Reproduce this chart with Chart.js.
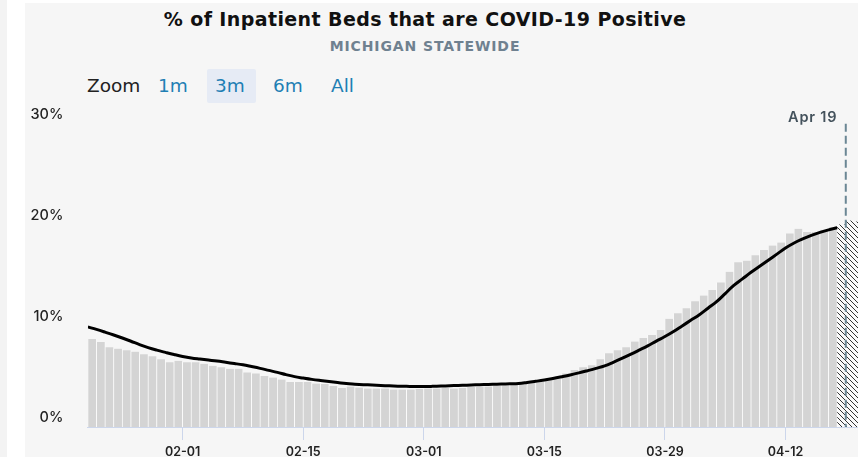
<!DOCTYPE html>
<html>
<head>
<meta charset="utf-8">
<script src="https://cdn.jsdelivr.net/npm/chart.js@4.4.1/dist/chart.umd.min.js"></script>
<style>
  html, body { margin: 0; padding: 0; }
  body { width: 858px; height: 457px; overflow: hidden; position: relative; background: #fff; font-family: Inter, sans-serif; }
  #edge { position: absolute; left: 0; top: 0; width: 7px; height: 457px; background: #f3f3f3; }
  #panel { position: absolute; left: 25px; top: 3px; width: 900px; height: 460px; background: #f6f6f6; }
  #title { position: absolute; left: 25px; width: 800px; top: 7px; line-height: 24px; text-align: center; font-family: 'DejaVu Sans', sans-serif; font-weight: 700; font-size: 19px; letter-spacing: 0.4px; color: #111; white-space: nowrap; }
  #subtitle { position: absolute; left: 25px; width: 800px; top: 38px; line-height: 16px; text-align: center; font-family: 'DejaVu Sans', sans-serif; font-weight: 700; font-size: 14px; letter-spacing: 0.9px; color: #6f8190; }
  .zt { position: absolute; top: 75px; line-height: 22px; font-family: 'DejaVu Sans', sans-serif; font-size: 18.5px; color: #1f7fb4; white-space: nowrap; }
  #zlabel { color: #222; }
  #zsel { position: absolute; left: 207px; top: 69px; width: 49px; height: 34px; background: #e6ebf5; border-radius: 2px; }
  #wrap { position: absolute; left: 25px; top: 0; width: 838px; height: 457px; }
</style>
</head>
<body>
<div id="edge"></div>
<div id="panel"></div>
<div id="title">% of Inpatient Beds that are COVID-19 Positive</div>
<div id="subtitle">MICHIGAN STATEWIDE</div>
<div id="zsel"></div>
<span class="zt" id="zlabel" style="left:87px">Zoom</span>
<span class="zt" style="left:158px">1m</span>
<span class="zt" style="left:215px">3m</span>
<span class="zt" style="left:273px">6m</span>
<span class="zt" style="left:331px">All</span>
<div id="wrap"><canvas id="chart" width="838" height="457"></canvas></div>
<script>
const startDate = '2021-01-21';
const tickLabels = ['02-01', '02-15', '03-01', '03-15', '03-29', '04-12'];
const markerDate = '2021-04-19';
const markerLabel = 'Apr 19';

// daily % of inpatient beds COVID positive, Jan 21 - Apr 17
const bedsPct = [
  8.7, 8.4, 7.9, 7.75, 7.6, 7.45, 7.2, 7.0, 6.7, 6.4,
  6.55, 6.4, 6.4, 6.25, 6.05, 5.9, 5.75, 5.75, 5.4, 5.3,
  5.05, 4.9, 4.7, 4.45, 4.45, 4.45, 4.3, 4.25, 4.05, 3.85,
  4.0, 3.9, 3.8, 3.8, 3.8, 3.7, 3.7, 3.7, 3.75, 3.8,
  3.8, 3.85, 3.8, 3.85, 3.95, 3.95, 4.0, 4.05, 4.1, 4.2,
  4.25, 4.4, 4.5, 4.7, 4.8, 5.3, 5.65, 5.9, 6.1, 6.7,
  7.3, 7.6, 7.9, 8.45, 8.8, 9.1, 9.6, 10.7, 11.25, 11.75,
  12.45, 13.0, 13.55, 14.3, 15.35, 16.3, 16.45, 17.0, 17.5, 17.95,
  18.25, 19.15, 19.6, 19.3, 19.3, 19.5, 19.75
];
// incomplete days (hatched)
const incompletePct = [20.0, 20.4, 20.3];
// 7 day average
const trendPct = [
  9.9, 9.65, 9.38, 9.1, 8.8, 8.48, 8.15, 7.85, 7.6, 7.38,
  7.17, 6.98, 6.83, 6.72, 6.62, 6.52, 6.4, 6.28, 6.15, 5.98,
  5.8, 5.6, 5.4, 5.18, 4.98, 4.84, 4.71, 4.6, 4.5, 4.4,
  4.3, 4.24, 4.19, 4.15, 4.11, 4.07, 4.04, 4.02, 4.0, 4.0,
  4.02, 4.05, 4.08, 4.11, 4.14, 4.17, 4.2, 4.23, 4.25, 4.27,
  4.3, 4.4, 4.52, 4.65, 4.8, 4.97, 5.15, 5.35, 5.57, 5.8,
  6.05, 6.4, 6.78, 7.18, 7.6, 8.03, 8.5, 8.95, 9.45, 10.0,
  10.55, 11.1, 11.75, 12.4, 13.2, 14.0, 14.65, 15.3, 15.9, 16.5,
  17.1, 17.7, 18.2, 18.6, 18.95, 19.25, 19.5, 19.7
];

const dayOf = (d) => (Date.parse(d) - Date.parse(startDate)) / 86400000;
const tickDays = tickLabels.map(l => dayOf('2021-' + l));
const markerDay = dayOf(markerDate);

function hatch() {
  const c = document.createElement('canvas');
  c.width = 5; c.height = 5;
  const g = c.getContext('2d');
  g.fillStyle = '#fafafa';
  g.fillRect(0, 0, 5, 5);
  g.strokeStyle = '#333';
  g.lineWidth = 1;
  g.beginPath();
  g.moveTo(0, 0); g.lineTo(5, 5);
  g.moveTo(4.5, -0.5); g.lineTo(5.5, 0.5);
  g.moveTo(-0.5, 4.5); g.lineTo(0.5, 5.5);
  g.stroke();
  return g.createPattern(c, 'repeat');
}

const markerLine = {
  id: 'markerLine',
  afterDatasetsDraw(chart) {
    const { ctx, scales: { x, y } } = chart;
    const px = x.getPixelForValue(markerDay);
    const top = y.getPixelForValue(30);
    ctx.save();
    ctx.strokeStyle = '#6b8794';
    ctx.lineWidth = 2;
    ctx.setLineDash([8, 4]);
    ctx.beginPath();
    ctx.moveTo(px, top);
    ctx.lineTo(px, y.getPixelForValue(0));
    ctx.stroke();
    ctx.setLineDash([]);
    ctx.font = '600 14.5px Inter';
    ctx.letterSpacing = '0.8px';
    ctx.fillStyle = '#44525c';
    ctx.textAlign = 'right';
    ctx.fillText(markerLabel, px - 8.5, top - 2);
    ctx.restore();
  }
};

new Chart(document.getElementById('chart'), {
  type: 'bar',
  data: {
    datasets: [
      {
        type: 'line',
        data: trendPct.map((v, i) => ({ x: i, y: v })),
        borderColor: '#000',
        borderWidth: 3,
        pointRadius: 0,
        tension: 0.4,
        order: 0
      },
      {
        data: bedsPct.map((v, i) => ({ x: i + 0.5, y: v })),
        backgroundColor: '#d4d4d4',
        borderColor: '#fff',
        borderWidth: { top: 0, right: 0.7, bottom: 0, left: 0.7 },
        borderSkipped: false,
        grouped: false,
        barPercentage: 1,
        categoryPercentage: 1,
        order: 1
      },
      {
        data: incompletePct.map((v, i) => ({ x: bedsPct.length + i + 0.5, y: v })),
        backgroundColor: hatch(),
        borderWidth: 0,
        grouped: false,
        barPercentage: 1,
        categoryPercentage: 1,
        order: 1
      }
    ]
  },
  options: {
    responsive: false,
    animation: false,
    layout: { padding: { top: 123.7, left: 0, right: 0, bottom: 0 } },
    plugins: { legend: { display: false }, tooltip: { enabled: false } },
    scales: {
      x: {
        type: 'linear',
        min: 0,
        max: 90,
        offset: false,
        grid: { display: true, drawOnChartArea: false, drawTicks: true, tickLength: 13, color: '#ccd6eb', offset: false },
        border: { display: true, color: '#ccd6eb', width: 1 },
        afterBuildTicks: (axis) => { axis.ticks = tickDays.map(v => ({ value: v })); },
        afterFit: (s) => { s.height = 30; },
        ticks: {
          autoSkip: false,
          maxRotation: 0,
          padding: 4.7,
          color: '#222',
          font: { family: 'Inter', size: 12.5, weight: '600' },
          callback: (v) => tickLabels[tickDays.indexOf(v)] || ''
        }
      },
      y: {
        min: 0,
        max: 30,
        grid: { display: false, drawTicks: false },
        border: { display: false },
        afterFit: (s) => { s.width = 62.9; s.paddingTop = 0; s.paddingBottom = 0; },
        ticks: {
          stepSize: 10,
          padding: 24.6,
          labelOffset: -9,
          color: '#222',
          font: { family: 'Inter', size: 14.5, weight: '500' },
          callback: (v) => v + '%'
        }
      }
    }
  },
  plugins: [markerLine]
});
</script>
</body>
</html>
